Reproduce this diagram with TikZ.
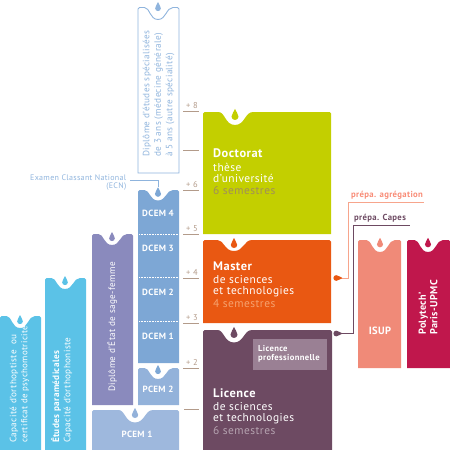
\documentclass[tikz,border=0pt]{standalone}
\usepackage{fontspec}
\setmainfont[LetterSpace=4]{PT Sans}
\definecolor{cyanb}{HTML}{5BC2E7}
\definecolor{sage}{HTML}{8A8ABD}
\definecolor{pcemone}{HTML}{9EB8DD}
\definecolor{pcemtwo}{HTML}{93B2DA}
\definecolor{dcem}{HTML}{7DA7D5}
\definecolor{doct}{HTML}{C3CF00}
\definecolor{mast}{HTML}{E95812}
\definecolor{lic}{HTML}{6D4A62}
\definecolor{licp}{HTML}{9A8094}
\definecolor{isup}{HTML}{F08A78}
\definecolor{poly}{HTML}{C0174C}
\definecolor{tickc}{HTML}{B39B8A}
\definecolor{agreg}{HTML}{F7A58C}
\definecolor{ecn}{HTML}{8FB4DD}
\definecolor{semd}{HTML}{A08D5C}
\definecolor{semm}{HTML}{F5A26F}
\definecolor{seml}{HTML}{B5A3B0}
% #1 name, #2 x1, #3 y1, #4 x2, #5 y2, #6 notch centre, #7 half width, #8 depth, #9 style
\newcommand{\notchbox}[9]{%
  \path[#9] (#2,#5) [rounded corners=1.5pt] -- (#2,#3) -- ({#6-#7},#3) [sharp corners]
    .. controls ({#6-#7*0.55},#3) and ({#6-#7*0.55},{#3+#8}) .. (#6,{#3+#8})
    .. controls ({#6+#7*0.55},{#3+#8}) and ({#6+#7*0.55},#3) .. ({#6+#7},#3)
    [rounded corners=1.5pt] -- (#4,#3) [sharp corners] -- (#4,#5) -- cycle;
  \coordinate (#1) at (#6,#3);}
% #1 position, #2 rotation, #3 scale, #4 colour
\newcommand{\waterdrop}[4]{%
  \fill[#4,shift={(#1)},rotate=#2,scale=#3] (0,-5.5)
    .. controls (0.6,-3) and (3.2,-1.2) .. (3.2,1.5)
    .. controls (3.2,3.4) and (1.6,4.5) .. (0,4.5)
    .. controls (-1.6,4.5) and (-3.2,3.4) .. (-3.2,1.5)
    .. controls (-3.2,-1.2) and (-0.6,-3) .. (0,-5.5) -- cycle;}
\tikzset{
  lbl/.style={text=white,inner sep=0pt,align=left,font=\fontsize{9.2}{11}\selectfont},
  cen/.style={text=white,inner sep=0pt,font=\bfseries\fontsize{9}{11}\selectfont},
  vert/.style={lbl,rotate=90,anchor=west},
  big/.style={text=white,inner sep=0pt,anchor=west,font=\fontsize{11.4}{12}\selectfont},
  bigb/.style={text=white,inner sep=0pt,anchor=west,font=\bfseries\fontsize{12.4}{12}\selectfont},
  ticktxt/.style={text=tickc,inner sep=0pt,font=\fontsize{8.5}{9}\selectfont},
  tickl/.style={draw=tickc,line width=1pt},
  dots/.style={draw=white,line width=0.7pt,dash pattern=on 0.8pt off 0.8pt},
  prep/.style={inner sep=0pt,anchor=west,font=\bfseries\fontsize{8.7}{9}\selectfont},
}
\begin{document}
\begin{tikzpicture}[x=1pt,y=-1pt]
\useasboundingbox (0,0) rectangle (450,450);
% boxes
\notchbox{a}{0}{316}{41}{450}{20}{15}{12}{fill=cyanb}
\notchbox{b}{45}{278}{86}{450}{65}{15}{11}{fill=cyanb}
\notchbox{c}{92}{234}{133}{405}{112}{15}{11}{fill=sage}
\notchbox{d}{92}{410}{179}{450}{135}{18}{12.5}{fill=pcemone}
\notchbox{e}{138}{368}{179}{405}{158}{15}{11}{fill=pcemtwo}
\notchbox{f}{138}{190}{179}{363}{158}{15}{10.5}{fill=dcem}
\notchbox{g}{138}{7.5}{179}{173}{158}{15}{12}{draw=ecn,line width=0.9pt,fill=white}
\notchbox{h}{203}{112}{331}{234}{235}{18}{13}{fill=doct}
\notchbox{i}{203}{240}{331}{323}{234}{18}{11}{fill=mast}
\notchbox{j}{203}{330}{332}{450}{234}{18}{12.5}{fill=lic}
\notchbox{k}{358}{240}{401}{368}{380}{15}{12}{fill=isup}
\notchbox{l}{407}{240}{450}{368}{428}{15}{12}{fill=poly}
% drops
\waterdrop{[yshift=-4pt]a}{0}{0.9}{cyanb}
\waterdrop{[yshift=-3pt]b}{0}{0.9}{cyanb}
\waterdrop{[yshift=-3pt]c}{0}{0.9}{sage}
\waterdrop{[yshift=-3.5pt]d}{0}{1}{pcemtwo}
\waterdrop{[yshift=-2pt]e}{0}{0.9}{dcem}
\waterdrop{[yshift=-2.5pt]f}{0}{0.95}{dcem}
\waterdrop{[yshift=0.5pt]g}{0}{0.9}{ecn}
\waterdrop{[yshift=-3pt]h}{0}{1.1}{doct}
\waterdrop{[yshift=-3.5pt]i}{0}{1}{mast}
\waterdrop{[yshift=-3pt]j}{0}{1.1}{lic}
\waterdrop{[yshift=-3pt]k}{0}{0.95}{isup}
\waterdrop{[yshift=-3pt]l}{0}{0.95}{poly}
% DCEM separators
\foreach \yy/\nn in {234/s3,277/s2,321/s1}{
  \coordinate (\nn a) at (139,\yy); \coordinate (\nn b) at (178,\yy);
  \draw[dots] (\nn a) -- (\nn b);}
% labels
\node[vert] (t1) at (14,443) {Capacité d'orthoptiste~~ou};
\node[vert,font=\fontsize{8.9}{11}\selectfont] (t2) at (25,443) {certificat de psychomotricité};
\node[vert] (t3) at (56,443) {\bfseries Études paramédicales};
\node[vert] (t4) at (68,443) {Capacité d'orthophoniste};
\node[vert] (t5) at (112,392) {Diplôme d'État de sage-femme};
\node[vert,text=ecn] (t6) at (147,157) {Diplôme d'études spécialisées};
\node[vert,text=ecn] (t7) at (158.5,157) {de 3 ans (médecine générale)};
\node[vert,text=ecn] (t8) at (170,157) {à 5 ans (autre spécialité)};
\node[cen] (d4) at (158,213) {DCEM 4};
\node[cen] (d3) at (158,248.5) {DCEM 3};
\node[cen] (d2) at (158,292) {DCEM 2};
\node[cen] (d1) at (158,336) {DCEM 1};
\node[cen] (p2) at (158,389.5) {PCEM 2};
\node[cen] (p1) at (137,434.5) {PCEM 1};
\node[bigb] (n1) at (213,153) {Doctorat};
\node[big] (n2) at (213,167) {thèse};
\node[big] (n3) at (213,178.5) {d'université};
\node[big,text=semd] (n4) at (213,190.5) {6 semestres};
\node[bigb] (n5) at (213,266.5) {Master};
\node[big] (n6) at (213,279.5) {de sciences};
\node[big] (n7) at (213,291.5) {et technologies};
\node[big,text=semm] (n8) at (213,303.5) {4 semestres};
\node[bigb] (n9) at (213,393.5) {Licence};
\node[big] (n10) at (213,406.5) {de sciences};
\node[big] (n11) at (213,418.5) {et technologies};
\node[big,text=seml] (n12) at (213,430.5) {6 semestres};
\node[fill=licp,minimum width=74pt,minimum height=31pt,inner sep=0pt] (lp) at (290,354.5) {};
\node[lbl,anchor=west,font=\bfseries\fontsize{8.6}{9.4}\selectfont] (lpt) at (258,354) {Licence\\professionnelle};
\node[cen,font=\bfseries\fontsize{10.5}{11}\selectfont] (is) at (380,331) {ISUP};
\node[vert,font=\bfseries\fontsize{10.2}{11.5}\selectfont] (po) at (428,335) {Polytech'\\Paris-UPMC};
% ticks
\foreach \yy/\tt/\nn in {111/+ 8/q8,190/+ 6/q6,234/+ 5/q5,278/+ 4/q4,323/+ 3/q3,368/+ 2/q2}{
  \coordinate (\nn a) at (183,\yy); \coordinate (\nn b) at (199,\yy);
  \draw[tickl] (\nn a) -- (\nn b);
  \node[ticktxt,anchor=south] at (192,\yy-2) {\tt};}
\coordinate (q7a) at (183,150); \coordinate (q7b) at (199,150);
\draw[draw=tickc,line width=0.6pt] (q7a) -- (q7b);
\coordinate (q1a) at (184,409.5); \coordinate (q1b) at (199,409.5);
\draw[draw=tickc,line width=0.6pt] (q1a) -- (q1b);
% ECN
\node[inner sep=0pt,anchor=east,align=right,text=ecn,font=\fontsize{8}{8.6}\selectfont] (ecnl) at (126.5,182.5) {Examen Classant National\\(ECN)};
\coordinate (ecne) at (130,180.5);
\coordinate (ecnd) at (158,187);
\draw[ecn,line width=0.8pt] (ecne) -| (ecnd);
% prepa
\node[prep,text=agreg!85!red] (pa) at (351,195.5) {prépa. agrégation};
\node[prep,text=lic] (pc) at (354,218.5) {prépa. Capes};
\coordinate (pae) at (424,202); \coordinate (pce) at (410,225);
\coordinate (pad) at (337.5,278); \coordinate (pcd) at (337.5,333.5);
\draw[agreg,line width=0.9pt] (pad) -- (348,278) -- (348,202) -- (pae);
\draw[lic,line width=0.7pt] (pcd) -- (353,333.5) -- (353,225) -- (pce);
\waterdrop{pad}{-90}{0.9}{mast}
\waterdrop{pcd}{-90}{0.9}{lic}
\end{tikzpicture}
\end{document}
